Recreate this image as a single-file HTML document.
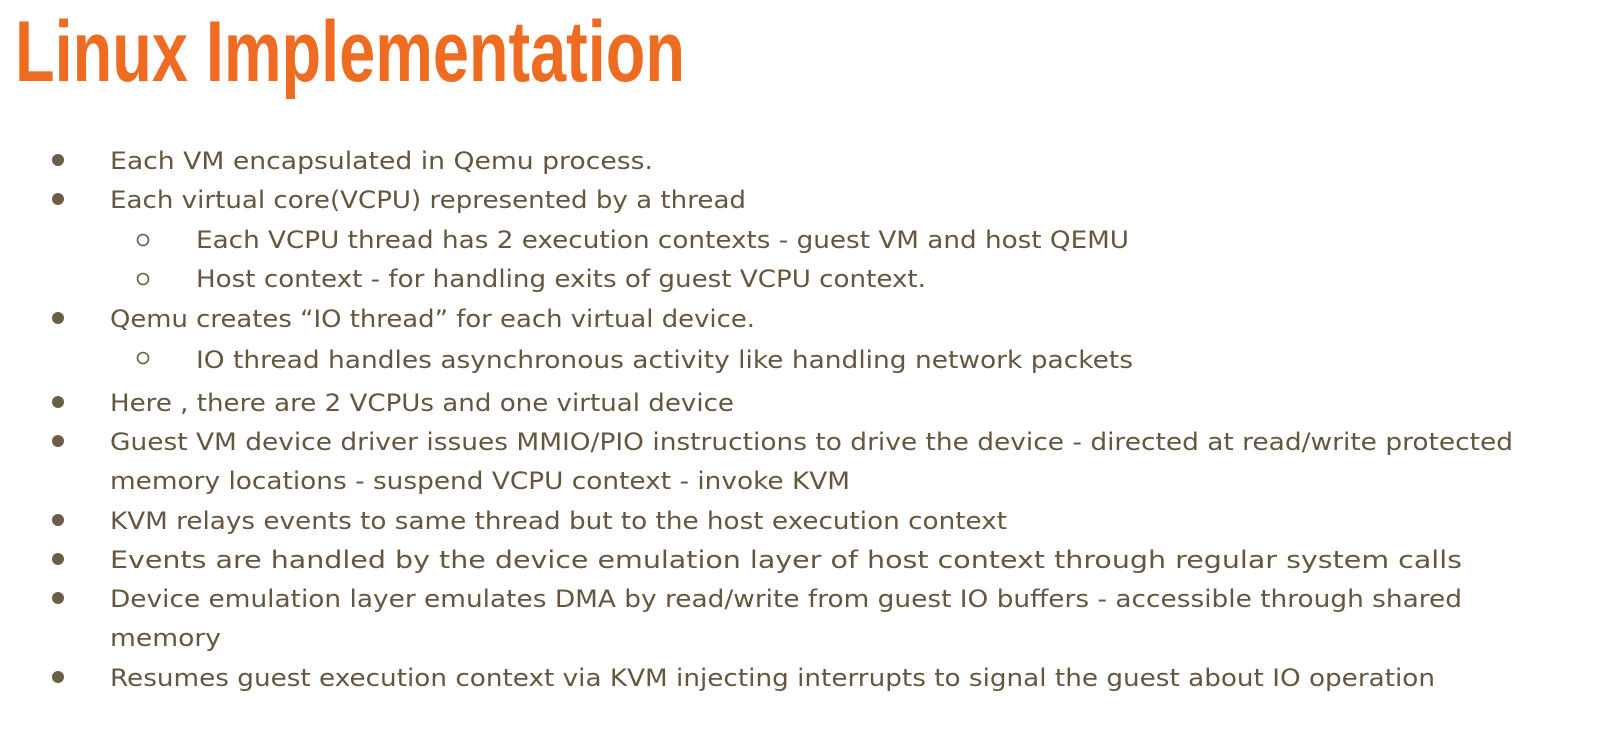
<!DOCTYPE html>
<html><head><meta charset="utf-8"><style>
html,body{margin:0;padding:0;background:#fff;}
svg{display:block}
.t{font-family:"DejaVu Sans","Liberation Sans",sans-serif;font-size:24px;fill:#65563f;}
</style></head><body>
<svg width="1600" height="742" viewBox="0 0 1600 742">
<text x="15" y="81" font-family="Liberation Sans, sans-serif" font-weight="bold" font-size="86" fill="#ee6b22" textLength="670" lengthAdjust="spacingAndGlyphs">Linux Implementation</text>
<g fill="#6b5e48">
<circle cx="58" cy="160" r="6"/><circle cx="58" cy="199" r="6"/><circle cx="58" cy="318" r="6"/>
<circle cx="58" cy="402" r="6"/><circle cx="58" cy="441" r="6"/><circle cx="58" cy="520" r="6"/>
<circle cx="58" cy="559" r="6"/><circle cx="58" cy="598" r="6"/><circle cx="58" cy="677" r="6"/>
</g>
<g fill="none" stroke="#6b5e48" stroke-width="1.6">
<circle cx="143" cy="240" r="5.5"/><circle cx="143" cy="279" r="5.5"/><circle cx="143" cy="358" r="5.5"/>
</g>
<g class="t">
<text x="110" y="169" textLength="543" lengthAdjust="spacingAndGlyphs">Each VM encapsulated in Qemu process.</text>
<text x="110" y="208" textLength="636" lengthAdjust="spacingAndGlyphs">Each virtual core(VCPU) represented by a thread</text>
<text x="196" y="248" textLength="933" lengthAdjust="spacingAndGlyphs">Each VCPU thread has 2 execution contexts - guest VM and host QEMU</text>
<text x="196" y="287" textLength="730" lengthAdjust="spacingAndGlyphs">Host context - for handling exits of guest VCPU context.</text>
<text x="110" y="327" textLength="645" lengthAdjust="spacingAndGlyphs">Qemu creates “IO thread” for each virtual device.</text>
<text x="196" y="368" textLength="937" lengthAdjust="spacingAndGlyphs">IO thread handles asynchronous activity like handling network packets</text>
<text x="110" y="411" textLength="624" lengthAdjust="spacingAndGlyphs">Here , there are 2 VCPUs and one virtual device</text>
<text x="110" y="450" textLength="1403" lengthAdjust="spacingAndGlyphs">Guest VM device driver issues MMIO/PIO instructions to drive the device - directed at read/write protected</text>
<text x="110" y="489" textLength="740" lengthAdjust="spacingAndGlyphs">memory locations - suspend VCPU context - invoke KVM</text>
<text x="110" y="529" textLength="897" lengthAdjust="spacingAndGlyphs">KVM relays events to same thread but to the host execution context</text>
<text x="110" y="568" textLength="1352" lengthAdjust="spacingAndGlyphs">Events are handled by the device emulation layer of host context through regular system calls</text>
<text x="110" y="607" textLength="1352" lengthAdjust="spacingAndGlyphs">Device emulation layer emulates DMA by read/write from guest IO buffers - accessible through shared</text>
<text x="110" y="646" textLength="111" lengthAdjust="spacingAndGlyphs">memory</text>
<text x="110" y="686" textLength="1325" lengthAdjust="spacingAndGlyphs">Resumes guest execution context via KVM injecting interrupts to signal the guest about IO operation</text>
</g>
</svg>
</body></html>
